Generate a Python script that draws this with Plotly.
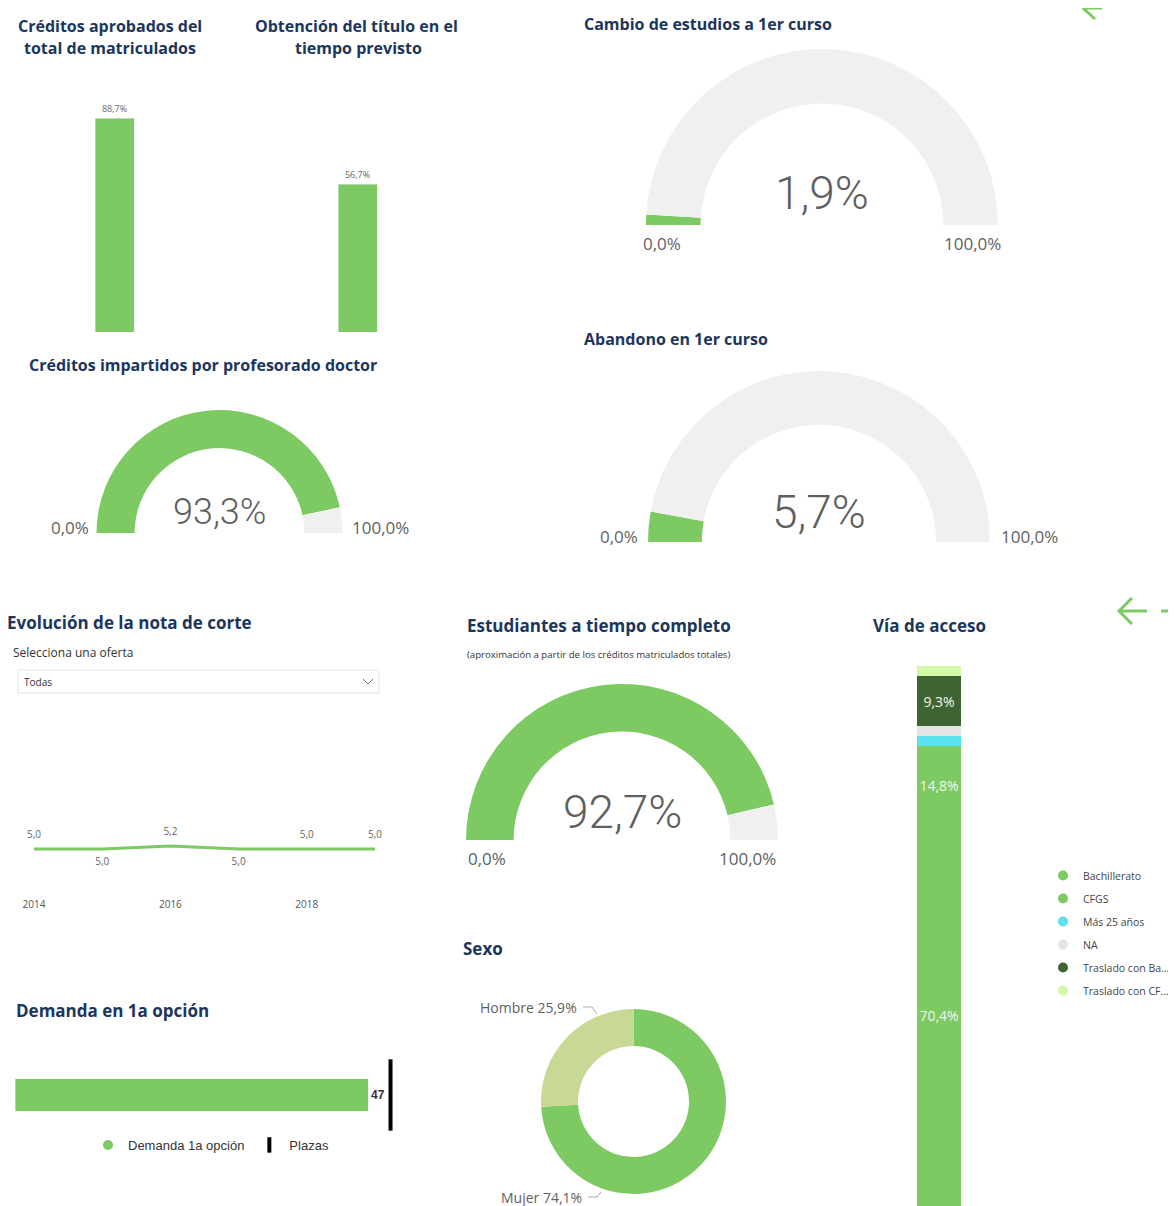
import plotly.graph_objects as go

# The page body adds an 8px margin; positions below are given in window pixels.
OFF = 8
W, H = 1176 - OFF, 1206 - OFF


def px(x):
    return (x - OFF) / W


def py(y):
    return 1 - (y - OFF) / H


def fmt(v):
    return f"{v:.1f}".replace(".", ",")


GREEN = "#7DC962"
GRAY_BG = "#F1F0EF"
NAVY = "#1B365D"
TXT = "#5F5F5F"
BASE_FONT = "Open Sans"

# ---------------- data ----------------
kpi_bar_values = [88.7, 56.7]          # Créditos aprobados / Obtención del título

gauge_names = ["Cambio de estudios a 1er curso", "Abandono en 1er curso",
               "Créditos impartidos por profesorado doctor", "Estudiantes a tiempo completo"]
gauge_values = [1.9, 5.7, 93.3, 92.7]
gauge_min = [0.0, 0.0, 0.0, 0.0]
gauge_max = [100.0, 100.0, 100.0, 100.0]

years = [2014, 2015, 2016, 2017, 2018, 2019]
nota_corte = [5.0, 5.0, 5.2, 5.0, 5.0, 5.0]
year_ticks = [2014, 2016, 2018]

demanda_1a = [47]
plazas = [50]

sexo_labels = ["Mujer", "Hombre"]
sexo_values = [74.1, 25.9]

acceso_labels = ["Bachillerato", "CFGS", "Más 25 años", "NA", "Traslado con Ba...", "Traslado con CF..."]
acceso_values = [70.4, 14.8, 1.9, 1.7, 9.3, 1.9]
acceso_colors = [GREEN, GREEN, "#5CE1EF", "#E4E4E4", "#3E6531", "#D4F9A6"]

fig = go.Figure()

# ---------------- KPI column charts ----------------
kpi_layout = [  # (axis suffix, center px, px per unit)
    ("", 114.5, 214 / 88.7),
    ("2", 357.5, 148 / 56.7),
]
for (ax, cx, ppu), val in zip(kpi_layout, kpi_bar_values):
    fig.add_trace(go.Bar(
        x=[0], y=[val], width=[0.39], marker_color=GREEN,
        text=[fmt(val) + "%"], textposition="outside", cliponaxis=False,
        textfont=dict(size=9, color="#666", family=BASE_FONT),
        xaxis="x" + ax, yaxis="y" + ax, showlegend=False, hoverinfo="skip"))
    fig.layout["xaxis" + ax] = dict(domain=[px(cx - 50), px(cx + 50)], range=[-0.5, 0.5],
                                    visible=False, anchor="y" + ax)
    fig.layout["yaxis" + ax] = dict(domain=[py(332), py(100)], range=[0, 232 / ppu],
                                    visible=False, anchor="x" + ax)

# ---------------- gauges (half donuts) ----------------
# (cx, cy, R, hole, value font size, value dy, label mode, label dx)
gauge_geo = [
    (822, 225, 176, 0.69, 46, -32, "below", 5),
    (819, 542, 171, 0.685, 46, -30, "side", 5),
    (219.5, 533, 123, 0.69, 36, -21, "side", 3),
    (622, 840, 156, 0.695, 46, -28, "below", 0),
]
annotations = []


def ann(text, x, y, xanchor, size, color, family=BASE_FONT, weight=None):
    f = dict(size=size, color=color, family=family)
    if weight is not None:
        f["weight"] = weight
    return dict(text=text, x=px(x), y=py(y), xref="paper", yref="paper", xanchor=xanchor,
                yanchor="middle", showarrow=False, font=f)


for (cx, cy, R, hole, vsize, vdy, mode, ldx), v, lo, hi in zip(gauge_geo, gauge_values, gauge_min, gauge_max):
    fig.add_trace(go.Pie(
        values=[v - lo, hi - v, hi - lo], sort=False, direction="clockwise", rotation=-90,
        hole=hole, marker=dict(colors=[GREEN, GRAY_BG, "rgba(0,0,0,0)"], line=dict(width=0)),
        textinfo="none", hoverinfo="skip", showlegend=False,
        domain=dict(x=[px(cx - R), px(cx + R)], y=[py(cy + R), py(cy - R)])))
    annotations.append(ann(fmt(v) + "%", cx, cy + vdy, "center", vsize, TXT, "Roboto", 300))
    if mode == "below":
        annotations.append(ann(fmt(lo) + "%", cx - R - ldx, cy + 18, "left", 17, TXT))
        annotations.append(ann(fmt(hi) + "%", cx + R + ldx, cy + 18, "right", 17, TXT))
    else:
        annotations.append(ann(fmt(lo) + "%", cx - R - 3 - ldx, cy - 6, "right", 17, TXT))
        annotations.append(ann(fmt(hi) + "%", cx + R + 4 + ldx, cy - 6, "left", 17, TXT))

# ---------------- nota de corte line ----------------
y_bot, y_top = 897, 700
ppu_line = 15.0
y0 = nota_corte[0] - (y_bot - 849) / ppu_line
fig.add_trace(go.Scatter(
    x=years, y=nota_corte, mode="lines+markers+text", line=dict(color=GREEN, width=3),
    marker=dict(size=12, color="rgba(0,0,0,0)"),
    texttemplate="%{y:.1f}", textfont=dict(size=10, color="#666", family=BASE_FONT),
    textposition=["top center", "bottom center", "top center", "bottom center", "top center", "top center"],
    cliponaxis=False, xaxis="x3", yaxis="y3", showlegend=False, hoverinfo="skip"))
fig.layout.xaxis3 = dict(domain=[px(34), px(375)], range=[years[0], years[-1]], tickvals=year_ticks,
                         showgrid=False, zeroline=False, showline=False, ticks="",
                         tickfont=dict(size=10, color="#555", family=BASE_FONT), anchor="y3")
fig.layout.yaxis3 = dict(domain=[py(y_bot), py(y_top)], range=[y0, y0 + (y_bot - y_top) / ppu_line],
                         visible=False, anchor="x3")

# ---------------- demanda ----------------
ppu_d = 353 / demanda_1a[0]
fig.add_trace(go.Bar(
    x=demanda_1a, y=[0], orientation="h", width=[0.47], marker_color=GREEN,
    text=[str(d) for d in demanda_1a], textposition="outside", cliponaxis=False,
    textfont=dict(size=12, color="#333", family="Liberation Sans", weight="bold"),
    xaxis="x4", yaxis="y4", showlegend=False, hoverinfo="skip"))
fig.add_trace(go.Scatter(
    x=plazas, y=[0], mode="markers",
    marker=dict(symbol="line-ns", size=51, line=dict(width=4, color="black")),
    cliponaxis=False, xaxis="x4", yaxis="y4", showlegend=False, hoverinfo="skip"))
fig.layout.xaxis4 = dict(domain=[px(15), px(410)], range=[0, 395 / ppu_d], visible=False, anchor="y4")
fig.layout.yaxis4 = dict(domain=[py(1130), py(1060)], range=[-0.5, 0.5], visible=False, anchor="x4")
# legend proxies
fig.add_trace(go.Scatter(x=[None], y=[None], mode="markers", name="Demanda 1a opción",
                         marker=dict(symbol="circle", size=10, color=GREEN), legend="legend",
                         xaxis="x4", yaxis="y4"))
fig.add_trace(go.Scatter(x=[None], y=[None], mode="markers", name="Plazas",
                         marker=dict(symbol="line-ns", size=11, line=dict(width=4, color="black")),
                         legend="legend", xaxis="x4", yaxis="y4"))

# ---------------- sexo donut ----------------
scx, scy, sR = 633.5, 1101.5, 92.5
fig.add_trace(go.Pie(
    labels=sexo_labels, values=sexo_values, sort=False, direction="clockwise", rotation=0, hole=0.6,
    marker=dict(colors=[GREEN, "#C8D995"], line=dict(width=0)), textinfo="none",
    hoverinfo="skip", showlegend=False,
    domain=dict(x=[px(scx - sR), px(scx + sR)], y=[py(scy + sR), py(scy - sR)])))
sexo_label_pos = {"Hombre": (579, 1007), "Mujer": (584, 1197)}
for lab, val in zip(sexo_labels, sexo_values):
    lx, ly = sexo_label_pos[lab]
    annotations.append(ann(f"{lab} {fmt(val)}%", lx, ly, "right", 14, TXT))

# ---------------- vía de acceso ----------------
for lab, val, col in zip(acceso_labels, acceso_values, acceso_colors):
    fig.add_trace(go.Bar(
        x=[0], y=[val], width=[0.55], marker=dict(color=col, line=dict(width=0)), name=lab,
        text=[fmt(val) + "%" if val > 5 else ""], textposition="inside", insidetextanchor="middle",
        textangle=0, constraintext="none", textfont=dict(size=14, color="#F4F4F4", family=BASE_FONT),
        xaxis="x5", yaxis="y5", showlegend=False, hoverinfo="skip"))
    fig.add_trace(go.Scatter(x=[None], y=[None], mode="markers", name=lab, legendgroup=lab,
                             marker=dict(symbol="circle", size=10, color=col), legend="legend2",
                             xaxis="x5", yaxis="y5"))
fig.layout.xaxis5 = dict(domain=[px(899), px(979)], range=[-0.5, 0.5], visible=False, anchor="y5")
fig.layout.yaxis5 = dict(domain=[0, py(666)], range=[0, 100], visible=False, anchor="x5")

# ---------------- titles & texts ----------------
titles = [
    ("Créditos aprobados del", 110, 26, "center", 16),
    ("total de matriculados", 110, 48, "center", 16),
    ("Obtención del título en el", 356, 26, "center", 16),
    ("tiempo previsto", 358, 48, "center", 16),
    (gauge_names[0], 582, 24, "left", 16),
    (gauge_names[1], 582, 339, "left", 16),
    (gauge_names[2], 27, 365, "left", 16),
    ("Evolución de la nota de corte", 5, 623, "left", 17),
    (gauge_names[3], 465, 625, "left", 17),
    ("Vía de acceso", 871, 625, "left", 17),
    ("Sexo", 461, 948, "left", 17),
    ("Demanda en 1a opción", 14, 1010, "left", 17),
]
for t, x, y, anc, s in titles:
    annotations.append(ann(t, x, y, anc, s, NAVY, BASE_FONT, "bold"))
annotations.append(ann("Selecciona una oferta", 11, 652, "left", 12, "#333"))
annotations.append(ann("(aproximación a partir de los créditos matriculados totales)", 465, 655, "left", 9.6, "#333"))
annotations.append(ann("Todas", 22, 682, "left", 10, "#333"))


def P(x, y):
    return f"{px(x)},{py(y)}"


shapes = [
    # dropdown
    dict(type="rect", xref="paper", yref="paper", x0=px(18), x1=px(379), y0=py(693), y1=py(670),
         line=dict(color="#E3E3E3", width=1), fillcolor="white", layer="below"),
    dict(type="path", xref="paper", yref="paper", path=f"M{P(363,679)} L{P(368,684)} L{P(373,679)}",
         line=dict(color="#777", width=1)),
    # sexo leader lines
    dict(type="path", xref="paper", yref="paper", path=f"M{P(583,1007)} L{P(592,1007)} L{P(597,1014)}",
         line=dict(color="#AAA", width=1)),
    dict(type="path", xref="paper", yref="paper", path=f"M{P(588,1197)} L{P(597,1197)} L{P(601,1192)}",
         line=dict(color="#AAA", width=1)),
    # navigation arrows
    dict(type="path", xref="paper", yref="paper",
         path=f"M{P(1102,8)} L{P(1086,8)} M{P(1094,0)} L{P(1084,9)} L{P(1095,19)}",
         line=dict(color=GREEN, width=3)),
    dict(type="path", xref="paper", yref="paper",
         path=f"M{P(1147,611)} L{P(1119,611)} M{P(1132,598)} L{P(1119,611)} L{P(1132,624)}",
         line=dict(color=GREEN, width=3)),
    dict(type="path", xref="paper", yref="paper", path=f"M{P(1161,611)} L{P(1178,611)}",
         line=dict(color=GREEN, width=3)),
]

fig.update_layout(
    width=W, height=H, margin=dict(l=0, r=0, t=0, b=0, autoexpand=False),
    paper_bgcolor="white", plot_bgcolor="white", separators=",.",
    barmode="stack", annotations=annotations, shapes=shapes,
    font=dict(family=BASE_FONT),
    legend=dict(x=px(88), y=py(1130), xanchor="left", yanchor="top", orientation="h",
                itemwidth=30, bgcolor="rgba(0,0,0,0)", traceorder="normal",
                font=dict(size=13, color="#333", family="Liberation Sans")),
    legend2=dict(x=px(1043), y=py(861), xanchor="left", yanchor="top", orientation="v",
                 itemwidth=30, bgcolor="rgba(0,0,0,0)", traceorder="grouped", tracegroupgap=4,
                 font=dict(size=10.5, color="#444", family=BASE_FONT)),
)

fig.write_html("out.html")
